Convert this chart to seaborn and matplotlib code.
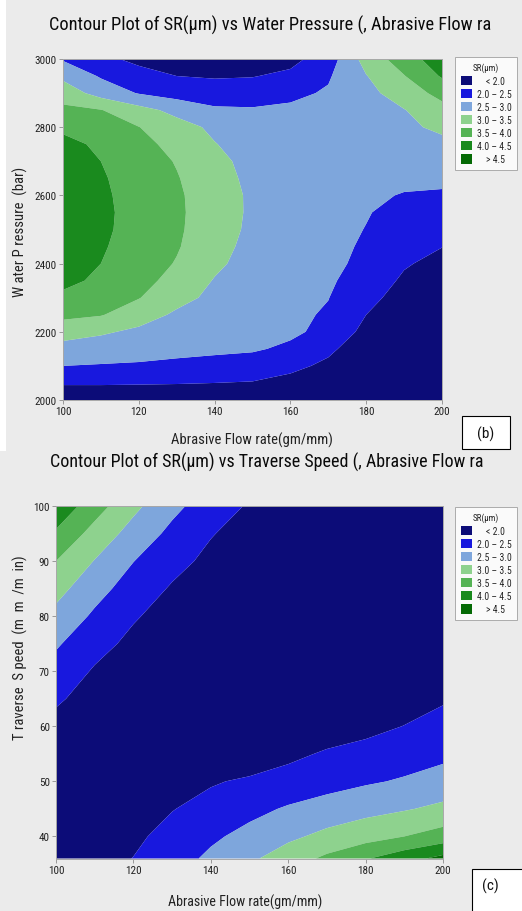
import numpy as np
import pandas as pd
import matplotlib
matplotlib.use("Agg")
import matplotlib.pyplot as plt
import seaborn as sns
from matplotlib.patches import Patch, Rectangle
from matplotlib import font_manager

# ---------------- data ----------------
flow_rate = [100, 110, 120, 130, 140, 150, 160, 170, 180, 190, 200]

water_pressure = [2000, 2050, 2100, 2150, 2200, 2250, 2300, 2350, 2400, 2450, 2500,
                  2550, 2600, 2650, 2700, 2750, 2800, 2850, 2900, 2950, 3000]
sr_b = [
    [1.72, 1.72, 1.72, 1.70, 1.68, 1.62, 1.55, 1.40, 1.20, 1.05, 0.90],   # 2000
    [2.04, 2.04, 2.03, 2.02, 2.00, 1.97, 1.85, 1.65, 1.35, 1.18, 1.03],   # 2050
    [2.50, 2.47, 2.45, 2.42, 2.38, 2.30, 2.12, 1.90, 1.50, 1.30, 1.15],   # 2100
    [2.82, 2.74, 2.67, 2.60, 2.57, 2.55, 2.42, 2.10, 1.70, 1.42, 1.28],   # 2150
    [3.21, 3.07, 2.90, 2.78, 2.70, 2.64, 2.58, 2.38, 1.85, 1.55, 1.40],   # 2200
    [3.62, 3.53, 3.23, 2.92, 2.78, 2.70, 2.60, 2.45, 2.00, 1.68, 1.50],   # 2250
    [3.90, 3.70, 3.52, 3.16, 2.88, 2.74, 2.62, 2.51, 2.15, 1.80, 1.60],   # 2300
    [4.12, 3.91, 3.65, 3.35, 2.97, 2.78, 2.64, 2.56, 2.30, 1.92, 1.75],   # 2350
    [4.26, 4.00, 3.74, 3.47, 3.10, 2.80, 2.66, 2.62, 2.38, 2.05, 1.85],   # 2400
    [4.37, 4.05, 3.79, 3.54, 3.18, 2.85, 2.69, 2.61, 2.45, 2.16, 2.01],   # 2450
    [4.43, 4.09, 3.82, 3.57, 3.23, 2.90, 2.72, 2.61, 2.49, 2.31, 2.15],   # 2500
    [4.45, 4.10, 3.83, 3.58, 3.25, 2.92, 2.73, 2.62, 2.52, 2.39, 2.30],   # 2550
    [4.43, 4.08, 3.82, 3.57, 3.24, 2.92, 2.73, 2.63, 2.56, 2.48, 2.44],   # 2600
    [4.37, 4.05, 3.79, 3.53, 3.20, 2.88, 2.73, 2.65, 2.60, 2.58, 2.60],   # 2650
    [4.27, 4.00, 3.74, 3.47, 3.13, 2.85, 2.72, 2.66, 2.65, 2.68, 2.75],   # 2700
    [4.13, 3.92, 3.65, 3.35, 3.02, 2.78, 2.70, 2.68, 2.72, 2.80, 2.90],   # 2750
    [3.91, 3.72, 3.51, 3.20, 2.90, 2.72, 2.68, 2.70, 2.80, 2.92, 3.08],   # 2800
    [3.61, 3.52, 3.18, 2.85, 2.58, 2.55, 2.58, 2.62, 2.78, 2.98, 3.34],   # 2850
    [3.28, 2.80, 2.47, 2.30, 2.22, 2.25, 2.40, 2.55, 2.85, 3.25, 3.65],   # 2900
    [2.89, 2.45, 2.15, 2.00, 1.96, 1.98, 2.10, 2.45, 2.98, 3.48, 4.05],   # 2950
    [2.45, 2.10, 1.90, 1.78, 1.75, 1.78, 1.86, 2.25, 3.20, 3.75, 4.30],   # 3000
]

traverse_speed = [36, 40, 45, 50, 55, 60, 65, 70, 75, 80, 85, 90, 95, 100]
sr_c = [
    [1.68, 1.82, 2.01, 2.30, 2.59, 2.91, 3.25, 3.60, 3.96, 4.30, 4.65],   # 36
    [1.60, 1.72, 1.90, 2.17, 2.42, 2.64, 2.90, 3.13, 3.30, 3.50, 3.71],   # 40
    [1.55, 1.55, 1.70, 1.98, 2.18, 2.37, 2.55, 2.70, 2.85, 2.96, 3.11],   # 45
    [1.60, 1.50, 1.50, 1.65, 1.95, 2.08, 2.20, 2.32, 2.44, 2.55, 2.69],   # 50
    [1.70, 1.52, 1.42, 1.42, 1.50, 1.65, 1.88, 2.06, 2.16, 2.27, 2.39],   # 55
    [1.85, 1.65, 1.50, 1.42, 1.42, 1.48, 1.58, 1.72, 1.86, 2.01, 2.16],   # 60
    [2.07, 1.80, 1.60, 1.48, 1.42, 1.40, 1.42, 1.50, 1.62, 1.78, 1.95],   # 65
    [2.31, 1.95, 1.72, 1.56, 1.46, 1.40, 1.38, 1.40, 1.47, 1.56, 1.68],   # 70
    [2.56, 2.17, 1.88, 1.66, 1.52, 1.43, 1.38, 1.38, 1.42, 1.48, 1.55],   # 75
    [2.86, 2.42, 2.05, 1.80, 1.60, 1.48, 1.40, 1.37, 1.37, 1.40, 1.45],   # 80
    [3.17, 2.68, 2.28, 1.95, 1.72, 1.55, 1.45, 1.38, 1.35, 1.35, 1.38],   # 85
    [3.50, 2.98, 2.51, 2.16, 1.88, 1.68, 1.52, 1.42, 1.35, 1.32, 1.33],   # 90
    [3.93, 3.32, 2.81, 2.38, 2.03, 1.80, 1.60, 1.45, 1.35, 1.30, 1.30],   # 95
    [4.37, 3.72, 3.12, 2.63, 2.25, 1.95, 1.70, 1.50, 1.38, 1.30, 1.28],   # 100
]

band_edges = [0.0, 2.0, 2.5, 3.0, 3.5, 4.0, 4.5, 9.0]
band_labels = ["    < 2.0", "2.0 \u2013 2.5", "2.5 \u2013 3.0", "3.0 \u2013 3.5",
               "3.5 \u2013 4.0", "4.0 \u2013 4.5", "    > 4.5"]
band_colors = ["#0c0c78", "#1818de", "#7ea6dc", "#8ed28e", "#55b355", "#1a8a1e", "#056a05"]

x_ticks = [100, 120, 140, 160, 180, 200]
yb_ticks = [2000, 2200, 2400, 2600, 2800, 3000]
yc_ticks = [40, 50, 60, 70, 80, 90, 100]

# ---------------- style ----------------
BG = "#ebebeb"
sns.set_theme(style="white")
installed = {f.name for f in font_manager.fontManager.ttflist}
narrow = [n for n in ["Liberation Sans Narrow", "DejaVu Sans Condensed", "Roboto Condensed",
                      "Open Sans Condensed"] if n in installed]
FAM = narrow + ["DejaVu Sans"]
plt.rcParams["font.family"] = FAM

fig = plt.figure(figsize=(5.22, 9.12), dpi=100, facecolor=BG)
W, H = 522.0, 912.0


def fx(px):
    return px / W


def fy(py):
    return 1.0 - py / H


palette = sns.color_palette(band_colors)


def draw_panel(ax, xs, ys, zs, yticks, ylim):
    X, Y = np.meshgrid(np.array(xs, float), np.array(ys, float))
    Z = np.array(zs, float)
    ax.contourf(X, Y, Z, levels=band_edges, colors=palette, antialiased=True)
    ax.set_xlim(100, 200)
    ax.set_ylim(*ylim)
    ax.set_xticks(x_ticks)
    ax.set_yticks(yticks)
    ax.tick_params(axis="both", direction="out", length=3, width=0.6,
                   color="#8c8c8c", labelsize=8, labelcolor="#222222", pad=1.5,
                   bottom=True, left=True)
    for s in ax.spines.values():
        s.set_color("#a8a8a8")
        s.set_linewidth(0.7)
    ax.set_facecolor(BG)


def fit_text(t, length_px):
    fig.canvas.draw()
    w = t.get_window_extent().width
    t.set_fontsize(t.get_fontsize() * length_px / w)


# white strip at left of upper picture
fig.add_artist(Rectangle((0, fy(452)), fx(6), 452 / H, transform=fig.transFigure,
                         facecolor="white", edgecolor="none", zorder=0))

# ---------- panel (b) ----------
ax1 = fig.add_axes([fx(63), fy(401), (442 - 63) / W, (401 - 60) / H])
draw_panel(ax1, flow_rate, water_pressure, sr_b, yb_ticks, (2000, 3000))
t1 = fig.text(fx(270), fy(25), "Contour Plot of SR(\u03bcm) vs Water Pressure (, Abrasive Flow ra",
              ha="center", va="center", fontsize=12, color="#0a0a0a")
xl1 = fig.text(fx(252), fy(440), "Abrasive Flow rate(gm/mm)", ha="center", va="center",
               fontsize=10.5, color="#222222")
fig.text(fx(20), fy(232), "W ater P ressure  (bar)", ha="center", va="center",
         rotation=90, fontsize=10.5, color="#222222")

# ---------- panel (c) ----------
ax2 = fig.add_axes([fx(56), fy(860), (443 - 56) / W, (860 - 507) / H])
draw_panel(ax2, flow_rate, traverse_speed, sr_c, yc_ticks, (35.9, 100))
t2 = fig.text(fx(267), fy(462), "Contour Plot of SR(\u03bcm) vs Traverse Speed (, Abrasive Flow ra",
              ha="center", va="center", fontsize=12, color="#0a0a0a")
xl2 = fig.text(fx(245), fy(902), "Abrasive Flow rate(gm/mm)", ha="center", va="center",
               fontsize=10.5, color="#222222")
fig.text(fx(20), fy(648), "T raverse  S peed  (m  m  /m  in)", ha="center", va="center",
         rotation=90, fontsize=10.5, color="#222222")

fit_text(t1, 440)
fit_text(t2, 435)
fit_text(xl1, 163)
fit_text(xl2, 156)

# ---------- legends ----------
handles = [Patch(facecolor=c, edgecolor="none") for c in band_colors]
for top in (58, 508):
    leg = fig.legend(handles, band_labels, title="SR(\u03bcm)", loc="upper left",
                     bbox_to_anchor=(fx(455), fy(top)), bbox_transform=fig.transFigure,
                     fontsize=7, title_fontsize=6.5, frameon=True, fancybox=False,
                     handlelength=1.15, handleheight=1.1, handletextpad=0.5,
                     labelspacing=0.32, borderpad=0.6, borderaxespad=0)
    leg.get_frame().set_edgecolor("#9a9a9a")
    leg.get_frame().set_linewidth(0.7)
    leg.get_frame().set_facecolor("white")

# ---------- (b) / (c) labels ----------
fig.add_artist(Rectangle((fx(462), fy(450)), 48 / W, 33 / H, transform=fig.transFigure,
                         facecolor="white", edgecolor="black", linewidth=0.8))
fig.text(fx(486), fy(434), "(b)", ha="center", va="center", fontsize=11, color="#111111")
fig.add_artist(Rectangle((fx(472), fy(916)), 52 / W, 46 / H, transform=fig.transFigure,
                         facecolor="white", edgecolor="black", linewidth=0.8))
fig.text(fx(490), fy(886), "(c)", ha="center", va="center", fontsize=11, color="#111111")

fig.savefig("out.png", dpi=100, facecolor=BG)
